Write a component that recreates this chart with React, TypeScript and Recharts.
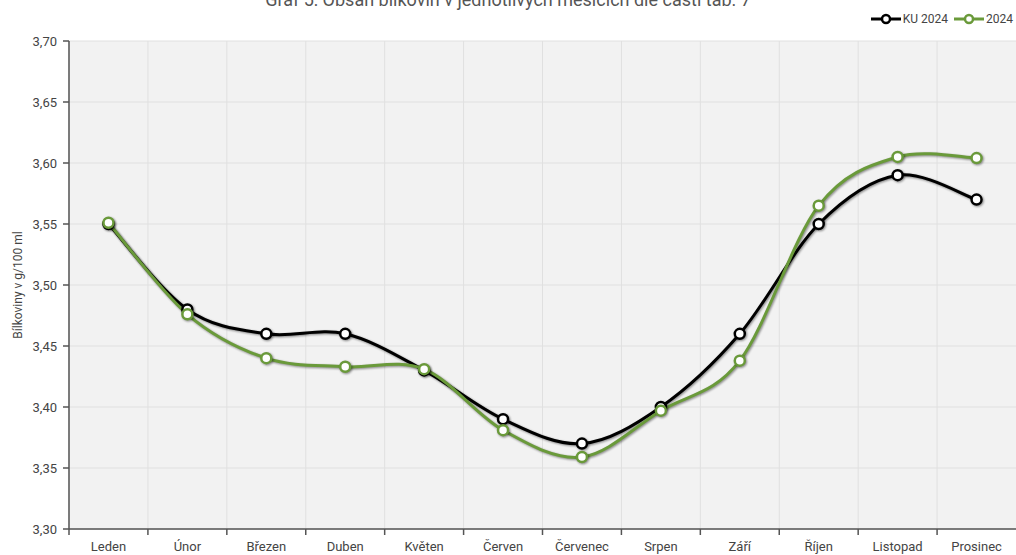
import React from 'react'
import { CartesianGrid, Line, LineChart, XAxis, YAxis, Label } from 'recharts'

const months = ['Leden', 'Únor', 'Březen', 'Duben', 'Květen', 'Červen', 'Červenec', 'Srpen', 'Září', 'Říjen', 'Listopad', 'Prosinec']
const ku2024 = [3.55, 3.48, 3.46, 3.46, 3.43, 3.39, 3.37, 3.4, 3.46, 3.55, 3.59, 3.57]
const y2024 = [3.551, 3.476, 3.44, 3.433, 3.431, 3.381, 3.359, 3.397, 3.438, 3.565, 3.605, 3.604]
const yTicks = [3.3, 3.35, 3.4, 3.45, 3.5, 3.55, 3.6, 3.65, 3.7]

const BLACK = '#000000'
const GREEN = '#6a9a3a'
const FONT = 'Roboto, "Noto Sans", sans-serif'

// smooth line like Excel (Catmull-Rom through every point)
function smoothCurve(context: any) {
  let pts: number[][] = []
  return {
    areaStart() {},
    areaEnd() {},
    lineStart() {
      pts = []
    },
    point(x: number, y: number) {
      pts.push([+x, +y])
    },
    lineEnd() {
      if (!pts.length) return
      context.moveTo(pts[0][0], pts[0][1])
      for (let i = 0; i < pts.length - 1; i++) {
        const p0 = pts[i - 1] || pts[i]
        const p1 = pts[i]
        const p2 = pts[i + 1]
        const p3 = pts[i + 2] || p2
        context.bezierCurveTo(
          p1[0] + (p2[0] - p0[0]) / 6,
          p1[1] + (p2[1] - p0[1]) / 6,
          p2[0] - (p3[0] - p1[0]) / 6,
          p2[1] - (p3[1] - p1[1]) / 6,
          p2[0],
          p2[1]
        )
      }
    },
  }
}

const chartData = months.map((m, i) => ({ month: m, ku: ku2024[i], cur: y2024[i] }))

function MonthTick(props: any) {
  const { x, y, payload } = props
  const half = payload && payload.offset ? payload.offset : 39.5
  return (
    <g>
      <line x1={x - half} x2={x - half} y1={y - 8} y2={y - 2} stroke="#555" strokeWidth={1.5} />
      <text x={x} y={y + 14} textAnchor="middle" fill="#444" fontSize={13} fontFamily={FONT}>
        {payload.value}
      </text>
    </g>
  )
}

function LegendIcon({ color }: { color: string }) {
  return (
    <svg width={30} height={12} style={{ verticalAlign: 'middle' }}>
      <line x1={0} x2={30} y1={6} y2={6} stroke={color} strokeWidth={3} />
      <circle cx={15} cy={6} r={4} fill="#fff" stroke={color} strokeWidth={2.5} />
    </svg>
  )
}

export default function App() {
  return (
    <div style={{ position: 'relative', width: 1016, height: 555, overflow: 'hidden', background: '#fff' }}>
      <style>{`
        body { margin: 0; }
        .recharts-line-curve, .recharts-line-dots circle { filter: drop-shadow(1.5px 1.5px 1.2px rgba(0,0,0,0.45)); }
      `}</style>
      <div
        style={{
          position: 'absolute',
          top: -11,
          left: 0,
          width: 1016,
          textAlign: 'center',
          fontFamily: FONT,
          fontSize: 18,
          color: '#555',
        }}
      >
        Graf 5: Obsah bílkovin v jednotlivých měsících dle části tab. 7
      </div>
      <div
        style={{
          position: 'absolute',
          top: 11,
          right: 3,
          display: 'flex',
          alignItems: 'center',
          fontFamily: FONT,
          fontSize: 12,
          color: '#444',
          lineHeight: '16px',
        }}
      >
        <LegendIcon color={BLACK} />
        <span style={{ marginLeft: 2, marginRight: 6 }}>KU 2024</span>
        <LegendIcon color={GREEN} />
        <span style={{ marginLeft: 2 }}>2024</span>
      </div>
      <LineChart width={1016} height={555} data={chartData} margin={{ top: 41, right: 0, bottom: 0, left: 0 }}>
        <CartesianGrid
          fill="#f2f2f2"
          stroke="#e0e0e0"
          verticalCoordinatesGenerator={({ offset }: any) =>
            months.map((_, i) => offset.left + (offset.width / months.length) * i)
          }
        />
        <XAxis
          dataKey="month"
          scale="band"
          height={26}
          interval={0}
          tickLine={false}
          axisLine={{ stroke: '#555', strokeWidth: 1.5 }}
          tick={<MonthTick />}
        />
        <YAxis
          width={69}
          domain={[3.3, 3.7]}
          ticks={yTicks}
          interval={0}
          tickSize={6}
          tickMargin={6}
          tickFormatter={(v: number) => v.toFixed(2).replace('.', ',')}
          tick={{ fill: '#444', fontSize: 13, fontFamily: FONT }}
          axisLine={{ stroke: '#555', strokeWidth: 1.5 }}
          tickLine={{ stroke: '#555', strokeWidth: 1.5 }}
        >
          <Label
            value="Bílkoviny v g/100 ml"
            angle={-90}
            position="insideLeft"
            offset={18}
            style={{ textAnchor: 'middle', fill: '#444', fontSize: 12, fontFamily: FONT }}
          />
        </YAxis>
        <Line
          dataKey="ku"
          name="KU 2024"
          type={smoothCurve as any}
          stroke={BLACK}
          strokeWidth={3}
          dot={{ r: 5, fill: '#fff', stroke: BLACK, strokeWidth: 2.5 }}
          isAnimationActive={false}
        />
        <Line
          dataKey="cur"
          name="2024"
          type={smoothCurve as any}
          stroke={GREEN}
          strokeWidth={3}
          dot={{ r: 5, fill: '#fff', stroke: GREEN, strokeWidth: 2.5 }}
          isAnimationActive={false}
        />
      </LineChart>
    </div>
  )
}
